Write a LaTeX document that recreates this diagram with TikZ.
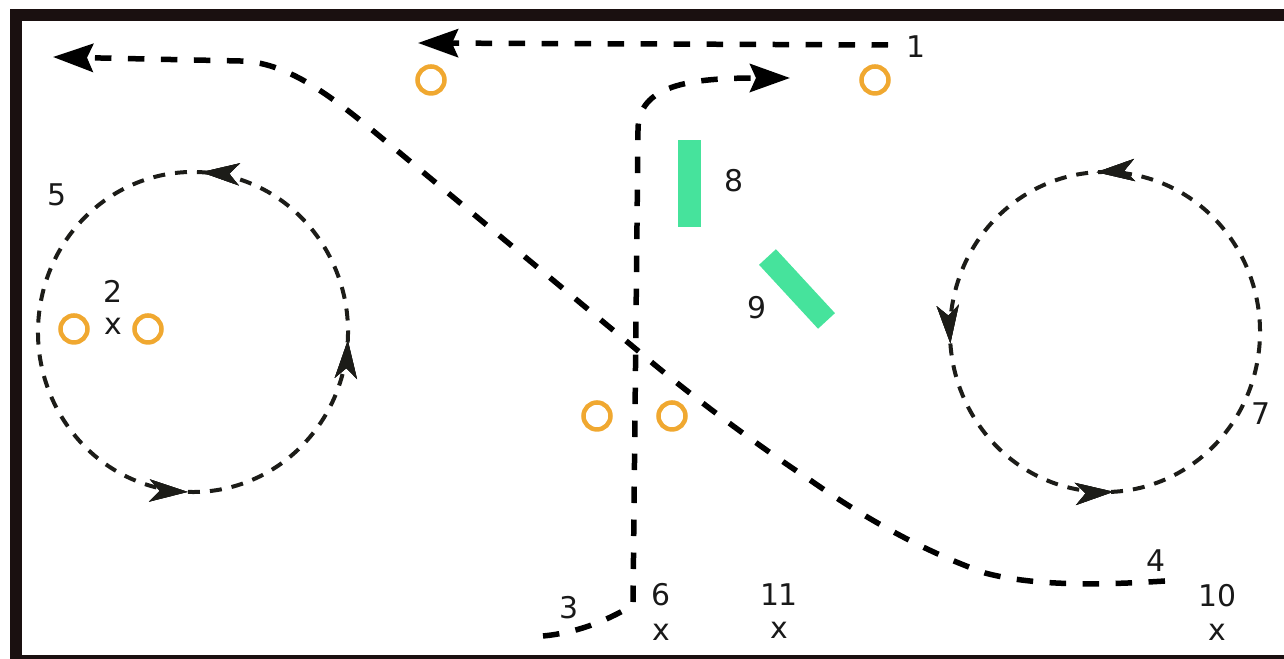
\documentclass[tikz,border=0pt]{standalone}
\usepackage{xcolor}
\usepackage{fontspec}
\setmainfont{DejaVu Sans}
\usetikzlibrary{arrows.meta,decorations.markings}
\definecolor{framedark}{HTML}{1A1010}
\definecolor{ringorange}{HTML}{F0A830}
\definecolor{bargreen}{HTML}{46E39C}
\definecolor{loopdark}{HTML}{1C1C18}

\tikzset{
    ring/.style={circle, draw=ringorange, line width=0.045cm, minimum size=0.27cm, inner sep=0pt},
    bar/.style={rectangle, fill=bargreen, inner sep=0pt},
    tag/.style={inner sep=0pt, font=\fontsize{8.5}{10}\selectfont, text=black!90},
    route/.style={line width=0.055cm, draw=black, dash pattern=on 0.165cm off 0.165cm},
    routetip/.style={-{Stealth[length=0.40cm, width=0.28cm, inset=0.06cm]}},
    loopline/.style={line width=0.04cm, draw=loopdark, dash pattern=on 0.12cm off 0.10cm},
    looptip/.style={decoration={markings, mark=at position #1 with {\arrow{Stealth[length=0.38cm, width=0.22cm, inset=0.10cm]}}}, postaction={decorate}}
}

\begin{document}
\begin{tikzpicture}
    \clip (0,0) rectangle (12.84,6.59);

    % Frame
    \draw[line width=0.12cm, framedark] (0.16,-0.02) rectangle (13.40,6.44);

    % Rings
    \node[ring] (ringa) at (4.31,5.79) {};
    \node[ring] (ringb) at (8.75,5.79) {};
    \node[ring] (ringc) at (0.74,3.30) {};
    \node[ring] (ringd) at (1.48,3.30) {};
    \node[ring] (ringe) at (5.97,2.43) {};
    \node[ring] (ringf) at (6.72,2.43) {};

    % Bars
    \node[bar, minimum width=0.23cm, minimum height=0.87cm] (bareight) at (6.895,4.755) {};
    \node[bar, minimum width=0.87cm, minimum height=0.23cm, rotate=-47.3] (barnine) at (7.97,3.70) {};

    % Route ends
    \coordinate (oneend) at (8.88,6.14);
    \coordinate (onetip) at (4.18,6.16);
    \coordinate (threeend) at (5.43,0.23);
    \coordinate (threetip) at (7.90,5.81);
    \coordinate (fourend) at (11.65,0.78);
    \coordinate (fourtip) at (0.53,6.02);

    % Routes
    \draw[route, routetip] (oneend) -- (onetip);
    \draw[route, routetip] (threeend) .. controls (5.75,0.26) and (6.05,0.37) .. (6.33,0.54)
        -- (6.38,5.29) .. controls (6.38,5.74) and (6.90,5.81) .. (threetip);
    \draw[route, routetip] (fourend) .. controls (10.90,0.73) and (10.30,0.74) .. (9.85,0.86)
        .. controls (9.20,1.09) and (8.60,1.44) .. (8.10,1.79)
        .. controls (7.50,2.19) and (6.90,2.64) .. (6.37,3.09)
        -- (4.00,5.06)
        .. controls (3.45,5.51) and (2.95,5.97) .. (2.40,5.98)
        -- (fourtip);

    % Loops
    \coordinate (loopleft) at (1.93,3.27);
    \coordinate (loopright) at (11.05,3.27);
    \draw[loopline, looptip=0.022, looptip=0.269, looptip=0.519]
        ([shift={(-100:1.55 and 1.60)}]loopleft) arc[start angle=-100, delta angle=360, x radius=1.55, y radius=1.60];
    \draw[loopline, looptip=0.036, looptip=0.289, looptip=0.536]
        ([shift={(80:1.55 and 1.60)}]loopright) arc[start angle=80, delta angle=360, x radius=1.55, y radius=1.60];

    % Labels
    \node[tag] (tagone) at (9.16,6.12) {1};
    \node[tag] (tagtwo) at (1.13,3.68) {2};
    \node[tag] (crosstwo) at (1.13,3.33) {x};
    \node[tag] (tagthree) at (5.69,0.51) {3};
    \node[tag] (tagfour) at (11.56,0.98) {4};
    \node[tag] (tagfive) at (0.57,4.64) {5};
    \node[tag] (tagsix) at (6.61,0.64) {6};
    \node[tag] (crosssix) at (6.61,0.27) {x};
    \node[tag] (tagseven) at (12.61,2.45) {7};
    \node[tag] (tageight) at (7.34,4.78) {8};
    \node[tag] (tagnine) at (7.57,3.51) {9};
    \node[tag] (tagten) at (12.17,0.63) {10};
    \node[tag] (crossten) at (12.17,0.27) {x};
    \node[tag] (tageleven) at (7.79,0.64) {11};
    \node[tag] (crosseleven) at (7.79,0.29) {x};
\end{tikzpicture}
\end{document}
